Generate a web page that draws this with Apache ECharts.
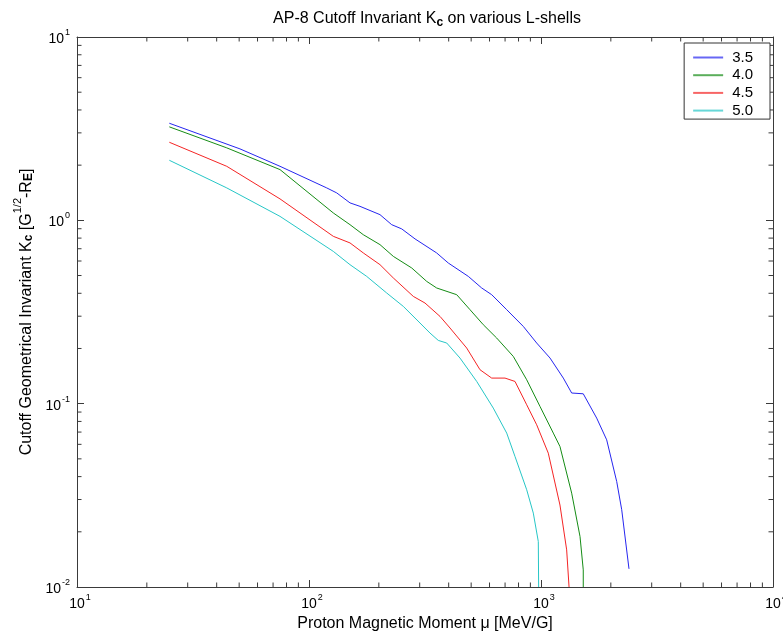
<!DOCTYPE html>
<html>
<head>
<meta charset="utf-8">
<script src="https://cdn.jsdelivr.net/npm/echarts@6/dist/echarts.min.js"></script>
<style>
  html, body { margin: 0; padding: 0; background: #fff; }
  #chart { width: 783px; height: 637px; }
</style>
</head>
<body>
<div id="chart"></div>
<script>
// AP-8 cutoff invariant Kc versus proton magnetic moment, one curve per L-shell
const shellNames = ['3.5', '4.0', '4.5', '5.0'];
const shellColors = ['#2626f0', '#158c15', '#f42424', '#26c6c6'];

const muL35 = [25, 50.4, 75, 119.2, 131.7, 150.2, 165.9, 202.3, 227.2, 251, 286.4, 355, 398.5, 486, 555, 613, 711.5, 839, 958, 1094, 1248, 1356, 1521, 1738, 1919, 2120, 2228, 2395];
const kL35  = [3.385, 2.453, 1.971, 1.503, 1.411, 1.245, 1.192, 1.074, 0.947, 0.898, 0.792, 0.664, 0.585, 0.4946, 0.4276, 0.393, 0.3255, 0.2638, 0.2142, 0.1773, 0.1379, 0.1143, 0.1132, 0.0834, 0.0635, 0.0376, 0.0264, 0.01256];

const muL40 = [25, 44.2, 75, 127.3, 150.2, 171.4, 202.3, 230.9, 277.2, 321.6, 355, 433.2, 494.3, 564, 644.2, 759.7, 867.8, 990, 1130, 1207, 1356, 1473, 1521, 1521];
const kL40  = [3.235, 2.485, 1.891, 1.097, 0.947, 0.835, 0.737, 0.636, 0.5497, 0.4645, 0.4276, 0.393, 0.3255, 0.2696, 0.228, 0.181, 0.135, 0.0966, 0.0691, 0.0584, 0.0325, 0.01884, 0.0124, 0.01];

const muL45 = [25, 44.2, 75, 127.3, 150.2, 171.4, 202.3, 230.9, 281.6, 316.2, 367, 405.4, 478.3, 546, 613, 699.6, 772.6, 867.8, 958, 1075, 1207, 1290, 1321];
const kL45  = [2.666, 1.971, 1.309, 0.818, 0.753, 0.664, 0.573, 0.485, 0.3847, 0.354, 0.2992, 0.2586, 0.2011, 0.1531, 0.1379, 0.1379, 0.1322, 0.0986, 0.0767, 0.0537, 0.028, 0.01594, 0.01];

const muL50 = [25, 44.2, 75, 127.3, 150.2, 177.3, 216.2, 255, 300.9, 332.3, 360.8, 392.3, 447.6, 528.3, 622.8, 711.5, 772.6, 867.8, 926.5, 973.6, 977];
const kL50  = [2.126, 1.503, 1.051, 0.677, 0.573, 0.4946, 0.4016, 0.3393, 0.2754, 0.2428, 0.2213, 0.2142, 0.1773, 0.1322, 0.0946, 0.0691, 0.0515, 0.0339, 0.0253, 0.0177, 0.01];

// Axis ranges and minor tick values (2..9 within each decade)
const xRange = [10, 10000];
const yRange = [0.01, 10];
const xMinorTicks = [20, 30, 40, 50, 60, 70, 80, 90, 200, 300, 400, 500, 600, 700, 800, 900, 2000, 3000, 4000, 5000, 6000, 7000, 8000, 9000];
const yMinorTicks = [0.02, 0.03, 0.04, 0.05, 0.06, 0.07, 0.08, 0.09, 0.2, 0.3, 0.4, 0.5, 0.6, 0.7, 0.8, 0.9, 2, 3, 4, 5, 6, 7, 8, 9];

const FONT = 'Liberation Sans, Arial, sans-serif';
const AXIS_COLOR = '#3a3a3a';

const zip = (a, b) => a.map((v, i) => [v, b[i]]);
const curves = [zip(muL35, kL35), zip(muL40, kL40), zip(muL45, kL45), zip(muL50, kL50)];

// Tick labels as 10 with a raised exponent
const powerLabel = v => '{b|10}{e|' + Math.round(Math.log10(v)) + '}';
const xPowerRich = {
  b: { fontSize: 14, fontFamily: FONT, color: '#000', verticalAlign: 'bottom', lineHeight: 18, padding: [0, 0, 0, 6] },
  e: { fontSize: 9, fontFamily: FONT, color: '#000', verticalAlign: 'top', lineHeight: 18, padding: [0, 0, 0, 1] }
};
const yPowerRich = {
  b: { fontSize: 14, fontFamily: FONT, color: '#000', verticalAlign: 'bottom', lineHeight: 18 },
  e: { fontSize: 9, fontFamily: FONT, color: '#000', verticalAlign: 'top', lineHeight: 18, padding: [0, 0, 0, 1] }
};

const axisBase = {
  type: 'log',
  logBase: 10,
  interval: 1,
  splitLine: { show: false },
  axisLine: { show: true, lineStyle: { color: AXIS_COLOR, width: 1 } },
  axisTick: { show: true, inside: true, length: 7, lineStyle: { color: AXIS_COLOR } },
  minorTick: { show: false }
};

const lineSeries = curves.map((data, i) => ({
  name: shellNames[i],
  type: 'line',
  data: data,
  symbol: 'none',
  smooth: false,
  lineStyle: { width: 1, color: shellColors[i] },
  itemStyle: { color: shellColors[i] },
  emphasis: { disabled: true },
  z: 3
}));

// Minor ticks drawn through the axis scales, inside the frame on both sides
const minorTickLen = 4.5;
const xMinorSeries = {
  type: 'custom',
  silent: true,
  clip: false,
  data: xMinorTicks.map(v => [v, 1]),
  encode: { x: 0, y: 1 },
  renderItem: (params, api) => {
    const cs = params.coordSys;
    const x = api.coord([api.value(0), 1])[0];
    const style = { stroke: AXIS_COLOR, lineWidth: 1 };
    return {
      type: 'group',
      children: [
        { type: 'line', shape: { x1: x, y1: cs.y + cs.height, x2: x, y2: cs.y + cs.height - minorTickLen }, style },
        { type: 'line', shape: { x1: x, y1: cs.y, x2: x, y2: cs.y + minorTickLen }, style }
      ]
    };
  },
  z: 1
};
const yMinorSeries = {
  type: 'custom',
  silent: true,
  clip: false,
  data: yMinorTicks.map(v => [100, v]),
  encode: { x: 0, y: 1 },
  renderItem: (params, api) => {
    const cs = params.coordSys;
    const y = api.coord([100, api.value(1)])[1];
    const style = { stroke: AXIS_COLOR, lineWidth: 1 };
    return {
      type: 'group',
      children: [
        { type: 'line', shape: { x1: cs.x, y1: y, x2: cs.x + minorTickLen, y2: y }, style },
        { type: 'line', shape: { x1: cs.x + cs.width, y1: y, x2: cs.x + cs.width - minorTickLen, y2: y }, style }
      ]
    };
  },
  z: 1
};

const chart = echarts.init(document.getElementById('chart'), null, { renderer: 'canvas' });
chart.setOption({
  animation: false,
  backgroundColor: '#fff',
  title: {
    text: '{t|AP-8 Cutoff Invariant K}{s|c}{t| on various L-shells}',
    left: 422,
    textAlign: 'center',
    top: 3,
    textStyle: {
      rich: {
        t: { fontSize: 16, fontFamily: FONT, color: '#000', fontWeight: 'normal' },
        s: { fontSize: 12, fontFamily: FONT, color: '#000', fontWeight: 'bold', padding: [9, 0, 0, 0] }
      }
    }
  },
  legend: {
    data: shellNames,
    orient: 'vertical',
    right: 13,
    top: 43,
    backgroundColor: '#fff',
    borderColor: '#333',
    borderWidth: 1,
    borderRadius: 0,
    padding: [7, 17, 1, 9],
    icon: 'rect',
    itemWidth: 30,
    itemHeight: 2,
    itemGap: 2.7,
    itemStyle: { opacity: 0.7 },
    selectedMode: false,
    textStyle: { fontSize: 15, fontFamily: FONT, color: '#000', lineHeight: 15, padding: [0, 0, 0, 4] }
  },
  grid: { left: 77, right: 10, top: 37, bottom: 50, containLabel: false, outerBoundsMode: 'none' },
  xAxis: [
    Object.assign({}, axisBase, {
      position: 'bottom',
      min: xRange[0], max: xRange[1],
      name: 'Proton Magnetic Moment \u03bc [MeV/G]',
      nameLocation: 'middle',
      nameGap: 29,
      nameTextStyle: { fontSize: 16, fontFamily: FONT, color: '#000' },
      axisLabel: { margin: 6, formatter: powerLabel, rich: xPowerRich }
    }),
    Object.assign({}, axisBase, {
      position: 'top',
      min: xRange[0], max: xRange[1],
      axisLabel: { show: false }
    })
  ],
  yAxis: [
    Object.assign({}, axisBase, {
      position: 'left',
      min: yRange[0], max: yRange[1],
      name: '{t|Cutoff Geometrical Invariant K}{s|c}{t| [G}{p|1/2}{t|-R}{s|E}{t|]}',
      nameLocation: 'middle',
      nameRotate: 90,
      nameGap: 42,
      nameTextStyle: {
        rich: {
          t: { fontSize: 16, fontFamily: FONT, color: '#000', verticalAlign: 'bottom', lineHeight: 22 },
          s: { fontSize: 12, fontFamily: FONT, color: '#000', fontWeight: 'bold', verticalAlign: 'bottom', lineHeight: 16 },
          p: { fontSize: 11, fontFamily: FONT, color: '#000', verticalAlign: 'top', lineHeight: 22 }
        }
      },
      axisLabel: { margin: 7, formatter: powerLabel, rich: yPowerRich }
    }),
    Object.assign({}, axisBase, {
      position: 'right',
      min: yRange[0], max: yRange[1],
      axisLabel: { show: false }
    })
  ],
  series: lineSeries.concat([xMinorSeries, yMinorSeries])
});
</script>
</body>
</html>
